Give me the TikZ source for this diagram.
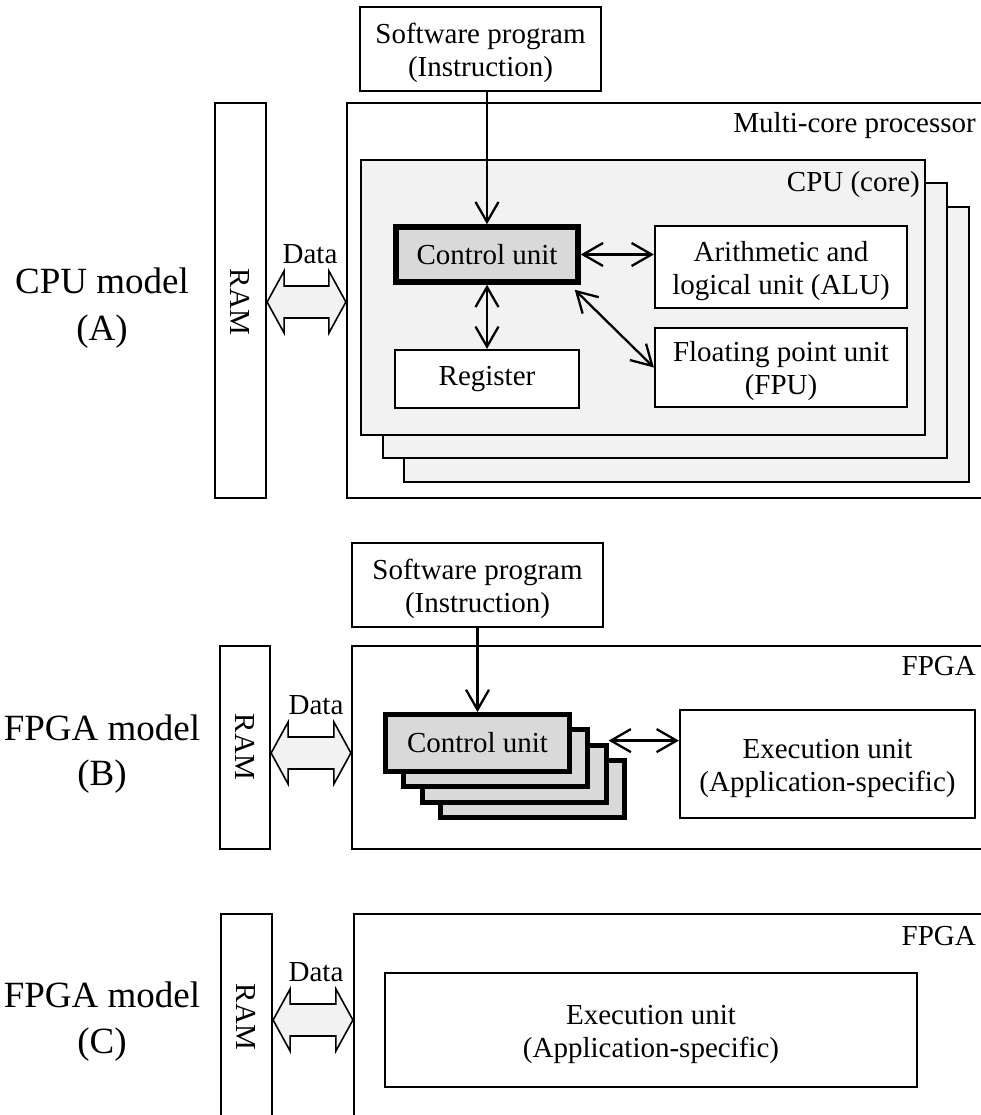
\documentclass[tikz,border=0pt]{standalone}
\usepackage{fontspec}
\setmainfont{Liberation Serif}
\usetikzlibrary{arrows.meta,calc}
\definecolor{corefill}{HTML}{F2F2F2}
\definecolor{cufill}{HTML}{D9D9D9}
\newcommand\boxfont{\fontsize{29}{33}\selectfont}
\newcommand\modelfont{\fontsize{37}{44}\selectfont}
% taller first line so two-line box texts sit a little lower
\newcommand\firststrut{\rule{0pt}{28pt}}
% wide double-headed data arrow between a RAM block and a chip block
\newcommand\dataflow[3]{%
  \draw[datashape] (#1.east |- #3) -- ++(17,-31) -- ++(0,15)
    -- ($(#2.west |- #3)+(-17,-16)$) -- ++(0,-15) -- (#2.west |- #3)
    -- ++(-17,31) -- ++(0,-15) -- ($(#1.east |- #3)+(17,16)$)
    -- ++(0,15) -- cycle;}
\begin{document}
\begin{tikzpicture}[x=1pt,y=-1pt,
  box/.style={draw, line width=2.2pt, fill=white, inner sep=0pt, align=center, font=\boxfont},
  corebox/.style={box, fill=corefill},
  cubox/.style={box, fill=cufill, line width=5.5pt},
  frame/.style={draw, line width=2.2pt, inner sep=0pt},
  txt/.style={inner sep=0pt, font=\boxfont},
  model/.style={inner sep=0pt, font=\modelfont, anchor=base},
  ramtext/.style={inner sep=0pt, font=\boxfont, rotate=-90},
  tipV/.tip={Straight Barb[length=20pt,width=23pt]},
  arr/.style={line width=2.3pt, -tipV},
  biarr/.style={line width=2.3pt, tipV-tipV},
  datashape/.style={draw, line width=1.6pt, fill=corefill, line join=miter}]
\useasboundingbox (0,0) rectangle (981,1115);
\clip (0,0) rectangle (981,1115);

% ---------------- CPU model (A) ----------------
\node[model] (labA1) at (102,293) {CPU model};
\node[model] (labA2) at (102,340) {(A)};
\node[frame, minimum width=51, minimum height=395] (ramA) at (240.5,300.5) {};
\node[ramtext] (ramAt) at (240.5,302) {RAM};
\node[frame, minimum width=653, minimum height=395] (mcA) at (673.5,300.5) {};
\node[txt, anchor=base east] (mcAlab) at (976,133) {Multi-core processor};
\node[corebox, minimum width=565, minimum height=275] (coreA3) at (686.5,344.5) {};
\node[corebox, minimum width=564, minimum height=275] (coreA2) at (665,320.5) {};
\node[corebox, minimum width=564, minimum height=275] (coreA) at (643,297.5) {};
\node[txt, anchor=base east] (coreAlab) at (920,192) {CPU (core)};
\node[box, minimum width=241, minimum height=84] (swA) at (480.5,49) {\firststrut Software program\\(Instruction)};
\node[cubox, minimum width=182, minimum height=55] (cuA) at (487,254.5) {Control unit};
\node[box, minimum width=252, minimum height=82] (aluA) at (781,267) {\firststrut Arithmetic and\\logical unit (ALU)};
\node[box, minimum width=252, minimum height=79] (fpuA) at (781,367.5) {\firststrut Floating point unit\\(FPU)};
\node[box, minimum width=184, minimum height=58] (regA) at (487,379) {Register};
\draw[arr] (swA.south -| cuA.north) -- (cuA.north);
\draw[biarr] (cuA.east) -- (aluA.west |- cuA.east);
\draw[biarr] (cuA.south) -- (regA.north);
\draw[biarr] ([xshift=-6,yshift=-5]cuA.south east) -- (fpuA.west);
\coordinate (dA) at (0,302);
\dataflow{ramA}{mcA}{dA}
\node[txt, anchor=base] (dataA) at (310,263) {Data};

% ---------------- FPGA model (B) ----------------
\node[model] (labB1) at (102,740) {FPGA model};
\node[model] (labB2) at (102,785) {(B)};
\node[frame, minimum width=50, minimum height=203] (ramB) at (245,747.5) {};
\node[ramtext] (ramBt) at (245,747) {RAM};
\node[frame, minimum width=648, minimum height=203] (fpgaB) at (676,747.5) {};
\node[txt, anchor=base east] (fpgaBlab) at (976,675) {FPGA};
\node[box, minimum width=251, minimum height=84] (swB) at (477.5,585) {\firststrut Software program\\(Instruction)};
\node[cubox, line width=5pt, minimum width=184, minimum height=57] (cuB4) at (532.4,788.9) {};
\node[cubox, line width=5pt, minimum width=184, minimum height=57] (cuB3) at (514.1,773.6) {};
\node[cubox, line width=5pt, minimum width=184, minimum height=57] (cuB2) at (495.8,758.3) {};
\node[cubox, line width=5pt, minimum width=184, minimum height=57] (cuB) at (477.5,743) {Control unit};
\node[box, minimum width=295, minimum height=108] (exB) at (827.5,764) {\firststrut Execution unit\\(Application-specific)};
\draw[arr] (swB.south -| cuB.north) -- (cuB.north);
\coordinate (cuBtap) at ([yshift=2]cuB3.north east);
\draw[biarr] (cuBtap) -- (exB.west |- cuBtap);
\coordinate (dB) at (0,753);
\dataflow{ramB}{fpgaB}{dB}
\node[txt, anchor=base] (dataB) at (316,714) {Data};

% ---------------- FPGA model (C) ----------------
\node[model] (labC1) at (102,1007) {FPGA model};
\node[model] (labC2) at (102,1053) {(C)};
\node[frame, minimum width=51, minimum height=216] (ramC) at (246.5,1022) {};
\node[ramtext] (ramCt) at (246.5,1017) {RAM};
\node[frame, minimum width=646, minimum height=216] (fpgaC) at (677,1022) {};
\node[txt, anchor=base east] (fpgaClab) at (976,945) {FPGA};
\node[box, minimum width=532, minimum height=114] (exC) at (651,1030) {\firststrut Execution unit\\(Application-specific)};
\coordinate (dC) at (0,1020);
\dataflow{ramC}{fpgaC}{dC}
\node[txt, anchor=base] (dataC) at (316,981) {Data};
\end{tikzpicture}
\end{document}
